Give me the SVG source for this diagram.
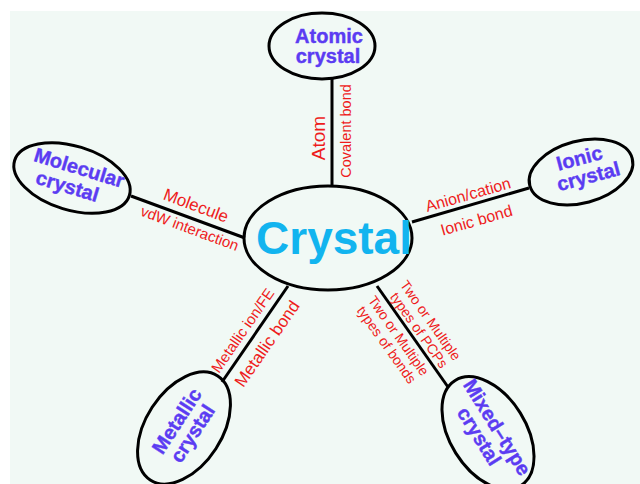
<svg xmlns="http://www.w3.org/2000/svg" width="640" height="484" viewBox="0 0 640 484">
<style>
.node{fill:none;stroke:#000;stroke-width:3}
.nt{font-family:"Liberation Sans",Arial,sans-serif;font-weight:bold;font-size:20px;fill:#5b3cf2;text-anchor:middle;stroke:#5b3cf2;stroke-width:0.4}
.lb{font-family:"Liberation Sans",Arial,sans-serif;fill:#ee1c1c}
.ln{stroke:#000;stroke-width:3;fill:none}
</style>
<rect x="0" y="0" width="640" height="484" fill="#ffffff"/>
<rect x="10" y="11" width="630" height="473" fill="#f1f9f5"/>
<g id="connectors">
<line class="ln" x1="332" y1="79" x2="332" y2="187"/>
<line class="ln" x1="131" y1="196" x2="245" y2="238"/>
<line class="ln" x1="529" y1="188" x2="412" y2="222"/>
<line class="ln" x1="288" y1="286" x2="222" y2="382"/>
<line class="ln" x1="377" y1="286" x2="448" y2="387"/>
<text class="lb" transform="translate(325,138) rotate(-90)" text-anchor="middle" font-size="19">Atom</text>
<text class="lb" transform="translate(351,131) rotate(-90)" text-anchor="middle" font-size="14.5">Covalent bond</text>
<g transform="translate(187.5,217) rotate(20.4)">
<text class="lb" x="4" y="-8" text-anchor="middle" font-size="17">Molecule</text>
<text class="lb" x="6" y="15" text-anchor="middle" font-size="15">vdW interaction</text>
</g>
<g transform="translate(470,205) rotate(-16)">
<text class="lb" x="1" y="-5" text-anchor="middle" font-size="16">Anion/cation</text>
<text class="lb" x="2" y="22" text-anchor="middle" font-size="16">Ionic bond</text>
</g>
<g transform="translate(254.5,335) rotate(-55.3)">
<text class="lb" x="-3" y="-7" text-anchor="middle" font-size="15">Metallic ion/FE</text>
<text class="lb" x="0" y="21" text-anchor="middle" font-size="17">Metallic bond</text>
</g>
<g transform="translate(377,286) rotate(54.7)">
<text class="lb" x="12" y="-19" font-size="14">Two or Multiple</text>
<text class="lb" x="16" y="-4" font-size="14">types of PCPs</text>
<text class="lb" x="6" y="16" font-size="14">Two or Multiple</text>
<text class="lb" x="8" y="31" font-size="14">types of bonds</text>
</g>
</g>
<g id="crystal">
<ellipse class="node" cx="328" cy="238" rx="84" ry="52"/>
<text x="334" y="254" text-anchor="middle" font-family="Liberation Sans,Arial,sans-serif" font-weight="bold" font-size="46" fill="#12b4ef">Crystal</text>
</g>
<g id="atomic">
<ellipse class="node" cx="322" cy="46" rx="53" ry="33"/>
<text class="nt" x="329" y="43">Atomic</text>
<text class="nt" x="328" y="63">crystal</text>
</g>
<g id="molecular" transform="translate(72,178) rotate(17)">
<ellipse class="node" cx="0" cy="0" rx="60" ry="32"/>
<text class="nt" x="4" y="-5">Molecular</text>
<text class="nt" x="-2" y="16">crystal</text>
</g>
<g id="ionic" transform="translate(581,172) rotate(-15)">
<ellipse class="node" cx="0" cy="0" rx="53" ry="31"/>
<text class="nt" x="2" y="-7">Ionic</text>
<text class="nt" x="6" y="13">crystal</text>
</g>
<g id="metallic" transform="translate(184,428) rotate(-57)">
<ellipse class="node" cx="0" cy="0" rx="62" ry="38"/>
<text class="nt" x="2" y="-3">Metallic</text>
<text class="nt" x="0" y="17">crystal</text>
</g>
<g id="mixed" transform="translate(488,433) rotate(58)">
<ellipse class="node" cx="0" cy="0" rx="62" ry="38"/>
<text class="nt" x="0" y="-4">Mixed–type</text>
<text class="nt" x="-2" y="16">crystal</text>
</g>
</svg>
